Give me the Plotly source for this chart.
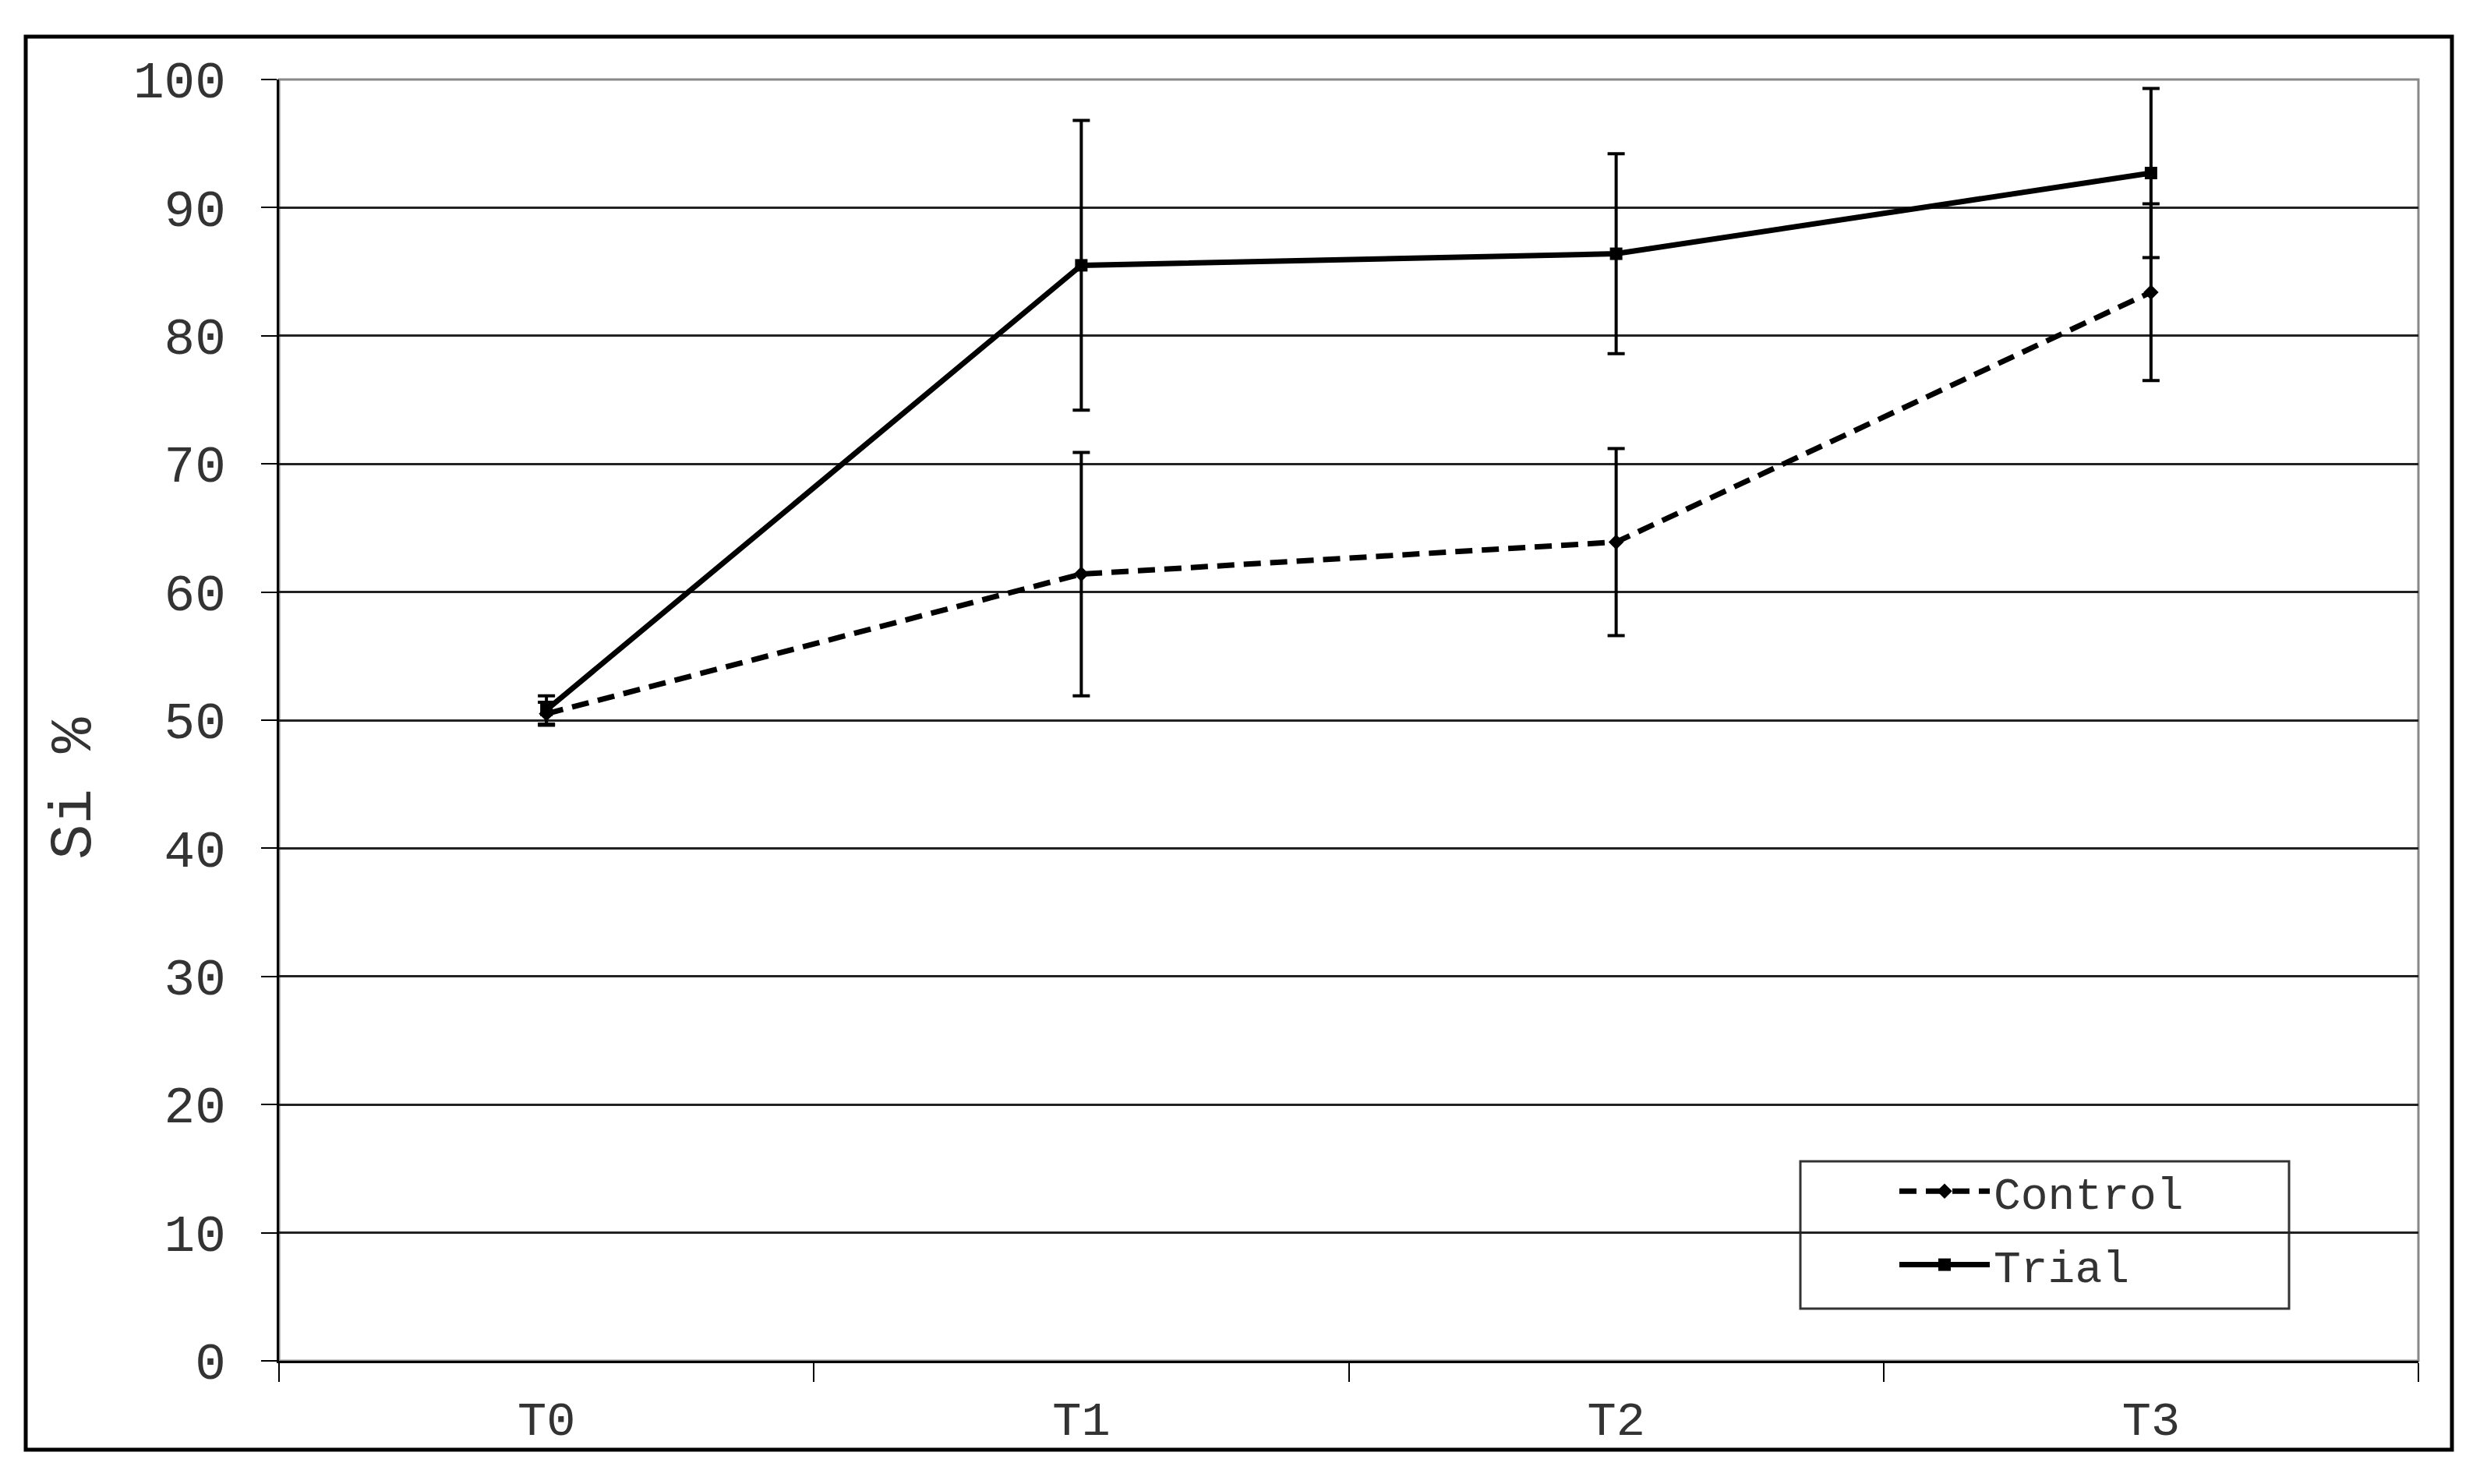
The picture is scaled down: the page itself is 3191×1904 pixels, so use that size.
import plotly.graph_objects as go

categories = ["T0", "T1", "T2", "T3"]
control = [50.5, 61.4, 63.9, 83.4]
control_err = [0.9, 9.5, 7.3, 6.9]
trial = [50.8, 85.5, 86.4, 92.7]
trial_err = [1.1, 11.3, 7.8, 6.6]
y_ticks = list(range(0, 101, 10))

mono = "Courier New, Nimbus Mono PS, FreeMono, Liberation Mono, monospace"

fig = go.Figure()

fig.add_trace(go.Scatter(
    x=categories, y=control, name="Control", mode="lines+markers",
    legendgroup="c",
    line=dict(color="black", width=7, dash="22px,12px"),
    marker=dict(symbol="diamond", size=15, color="black"),
    error_y=dict(type="data", array=control_err, color="black", thickness=4, width=11),
))
fig.add_trace(go.Scatter(
    x=categories, y=trial, name="Trial", mode="lines+markers",
    legendgroup="t",
    line=dict(color="black", width=7),
    marker=dict(symbol="square", size=16, color="black"),
    error_y=dict(type="data", array=trial_err, color="black", thickness=4, width=11),
))

# the page body adds an 8px offset, so margins are taken 8px smaller
W, H = 3191, 1904
OFF = 8
L, R, T, B = 358 - OFF, 88 + OFF, 102 - OFF, 158 + OFF
pw, ph = W - L - R, H - T - B


def px_x(x):
    return (x - OFF - L) / pw


def px_y(y):
    return (H - B - (y - OFF)) / ph


fig.update_layout(
    width=W, height=H,
    margin=dict(l=L, r=R, t=T, b=B),
    paper_bgcolor="white", plot_bgcolor="white",
    font=dict(family=mono, color="#333", size=62),
    showlegend=True,
    legend=dict(
        x=px_x(2432), y=px_y(1484), xanchor="left", yanchor="top",
        borderwidth=0, bgcolor="rgba(0,0,0,0)",
        font=dict(size=58, family=mono, color="#333"),
        itemwidth=116, traceorder="grouped", tracegroupgap=16,
    ),
    xaxis=dict(
        type="category", range=[-0.5, 3.5], tickson="boundaries",
        ticks="outside", ticklen=24, tickwidth=2, tickcolor="black",
        showline=True, linecolor="black", linewidth=3,
        showgrid=False, tickfont=dict(size=62), ticklabelstandoff=18,
    ),
    yaxis=dict(
        range=[0, 100], tickvals=y_ticks, ticks="outside", ticklen=20,
        tickwidth=2, tickcolor="black",
        showline=True, linecolor="black", linewidth=3,
        showgrid=True, gridcolor="#222", gridwidth=3, zeroline=False,
        tickfont=dict(size=66), ticklabelstandoff=32,
    ),
    annotations=[dict(
        text="Si %", textangle=-90, showarrow=False,
        xref="paper", yref="paper", x=px_x(96), y=px_y(1012),
        xanchor="center", yanchor="middle",
        font=dict(size=76, family=mono, color="#333"),
    )],
    shapes=[
        # plot-area border (right side grey)
        dict(type="rect", xref="paper", yref="paper", x0=0, x1=1, y0=0, y1=1,
             line=dict(color="#888", width=3), layer="below"),
        # legend box
        dict(type="rect", xref="paper", yref="paper",
             x0=px_x(2310), x1=px_x(2937), y0=px_y(1679), y1=px_y(1490),
             line=dict(color="#333", width=3), fillcolor="white", layer="below"),
        # outer chart frame
        dict(type="rect", xref="paper", yref="paper",
             x0=px_x(33), x1=px_x(3146), y0=px_y(1860), y1=px_y(47),
             line=dict(color="black", width=5)),
    ],
)

fig.write_html("out.html")
